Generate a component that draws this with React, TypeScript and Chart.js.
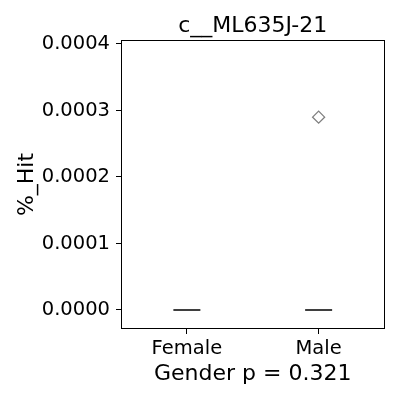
import React, { useEffect, useRef } from "react";
import { Chart, registerables } from "chart.js";

Chart.register(...registerables);

const chartTitle = "c__ML635J-21";
const xAxisTitle = "Gender p = 0.321";
const yAxisTitle = "%_Hit";
const categories = ["Female", "Male"];
const medians = [0, 0];
const outlierGroups = [1];
const outlierValues = [0.00029];
const yTicks = [0, 0.0001, 0.0002, 0.0003, 0.0004];

const FONT = "'DejaVu Sans', sans-serif";

const framePlugin = {
  id: "frame",
  afterDraw(chart: any) {
    const { ctx, chartArea } = chart;
    ctx.save();
    ctx.strokeStyle = "#000";
    ctx.lineWidth = 1;
    ctx.strokeRect(
      Math.round(chartArea.left) + 0.5,
      Math.round(chartArea.top) + 0.5,
      Math.round(chartArea.right - chartArea.left) - 1,
      Math.round(chartArea.bottom - chartArea.top) - 1
    );
    ctx.fillStyle = "#000";
    ctx.font = `22px ${FONT}`;
    ctx.textAlign = "center";
    ctx.textBaseline = "alphabetic";
    ctx.fillText(chartTitle, (chartArea.left + chartArea.right) / 2, 32);
    ctx.restore();
  },
};

export default function App() {
  const ref = useRef<HTMLCanvasElement>(null);
  useEffect(() => {
    if (!ref.current) return;
    const chart = new Chart(ref.current, {
      type: "scatter",
      data: {
        datasets: [
          {
            label: "median",
            data: categories.map((_, i) => ({ x: i, y: medians[i] })),
            pointStyle: "line",
            pointRadius: 13.5,
            pointBorderWidth: 2,
            pointBorderColor: "#3f3f3f",
            pointBackgroundColor: "#3f3f3f",
          },
          {
            label: "outliers",
            data: outlierGroups.map((g, i) => ({ x: g, y: outlierValues[i] })),
            pointStyle: "rectRot",
            pointRadius: 6,
            pointBorderWidth: 1.3,
            pointBorderColor: "#7f7f7f",
            pointBackgroundColor: "rgba(255,255,255,0)",
          },
        ],
      },
      options: {
        animation: false,
        responsive: false,
        maintainAspectRatio: false,
        layout: { padding: { left: 0, right: 15, top: 40, bottom: 0 } },
        plugins: {
          legend: { display: false },
          tooltip: { enabled: false },
          title: { display: false },
        },
        scales: {
          x: {
            type: "linear",
            min: -0.5,
            max: 1.5,
            afterFit: (s: any) => {
              s.height = 71;
            },
            afterBuildTicks: (s: any) => {
              s.ticks = categories.map((_, i) => ({ value: i }));
            },
            border: { display: false },
            grid: {
              display: true,
              drawOnChartArea: false,
              drawTicks: true,
              tickLength: 5,
              color: "#000",
            },
            ticks: {
              color: "#000",
              font: { family: FONT, size: 19.5 },
              padding: 3,
              maxRotation: 0,
              callback: (v: any) => categories[v as number] ?? "",
            },
            title: {
              display: true,
              text: xAxisTitle,
              color: "#000",
              font: { family: FONT, size: 22 },
              padding: { top: 0, bottom: 13 },
            },
          },
          y: {
            type: "linear",
            min: -0.0000286,
            max: 0.000406,
            afterFit: (s: any) => {
              s.width = 121;
            },
            afterBuildTicks: (s: any) => {
              s.ticks = yTicks.map((v) => ({ value: v }));
            },
            border: { display: false },
            grid: {
              display: true,
              drawOnChartArea: false,
              drawTicks: true,
              tickLength: 5,
              color: "#000",
            },
            ticks: {
              color: "#000",
              font: { family: FONT, size: 19.5 },
              padding: 6,
              callback: (v: any) => Number(v).toFixed(4),
            },
            title: {
              display: true,
              text: yAxisTitle,
              color: "#000",
              font: { family: FONT, size: 22 },
              padding: { top: 14, bottom: 0 },
            },
          },
        },
      },
      plugins: [framePlugin],
    });
    return () => chart.destroy();
  }, []);
  return (
    <div style={{ position: "fixed", left: 0, top: 0, width: 400, height: 400, background: "#fff" }}>
      <canvas ref={ref} width={400} height={400} style={{ width: 400, height: 400 }} />
    </div>
  );
}
